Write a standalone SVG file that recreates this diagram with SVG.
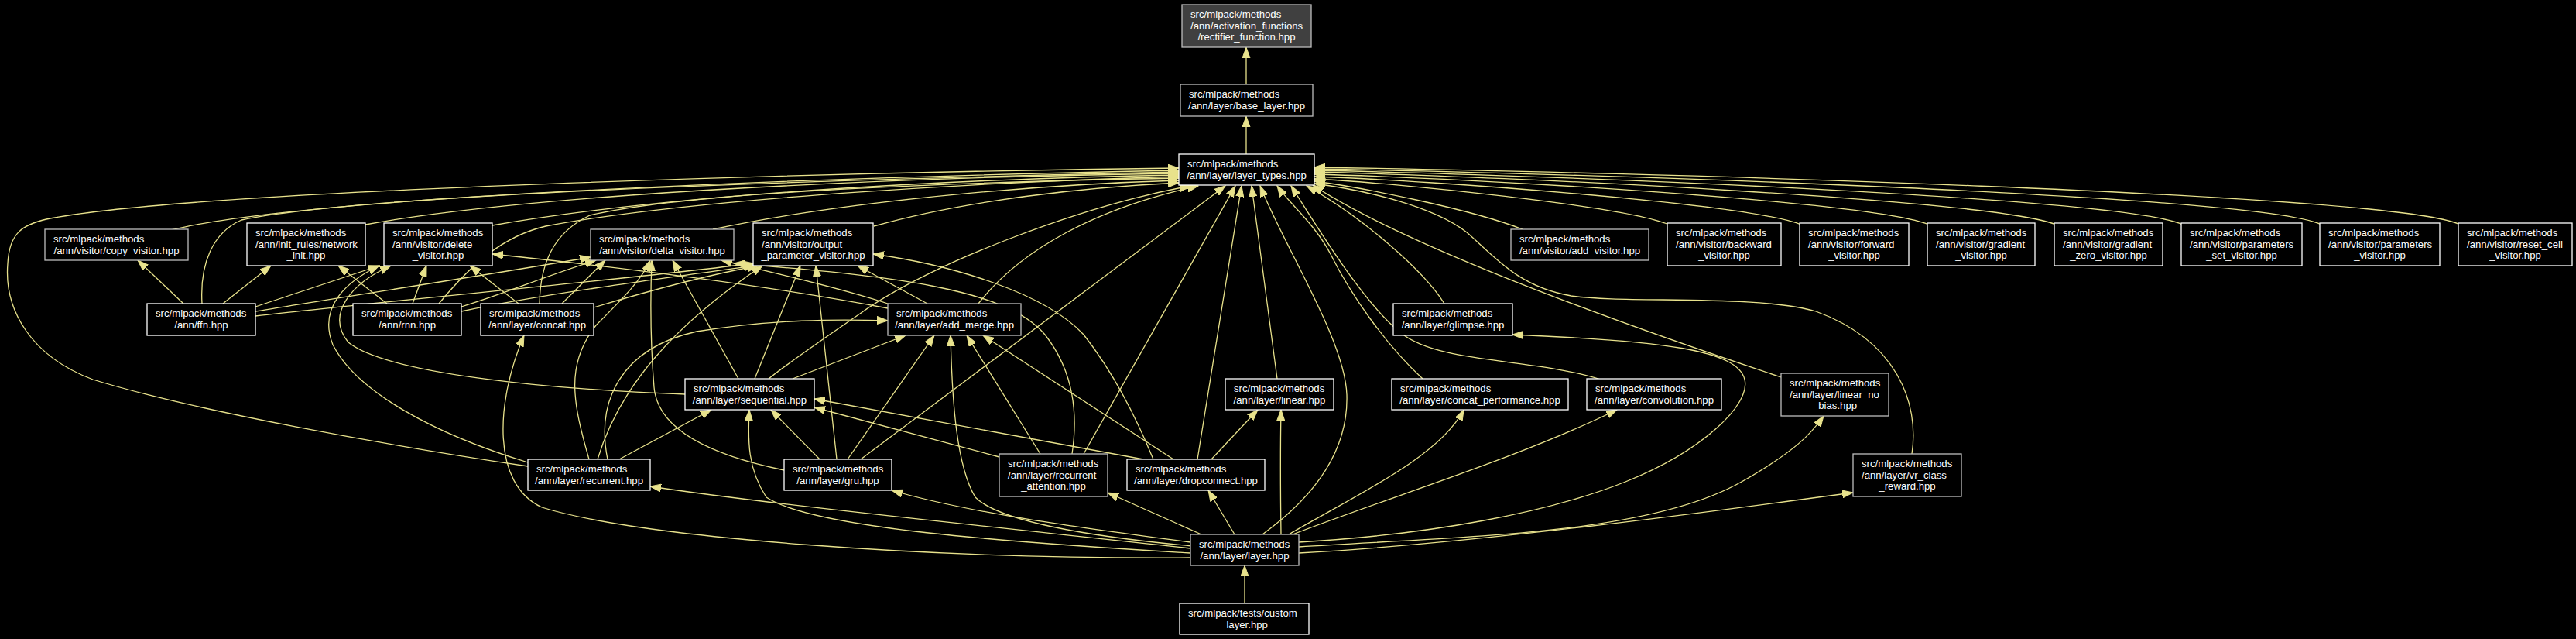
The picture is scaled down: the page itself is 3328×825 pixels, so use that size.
<svg xmlns="http://www.w3.org/2000/svg" width="3328" height="825" viewBox="0 0 3328 825">
<style>
.bg{fill:#000000}
.n rect{fill:#000000;stroke:#ffffff;stroke-width:1.3}
.n.g rect{stroke:#bdbdbd}
.n.d rect{fill:#404040;stroke:#bdbdbd}
.n text{font-family:"Liberation Sans",Arial,Helvetica,sans-serif;font-size:13.2px;fill:#ffffff}
.n text.c{text-anchor:middle}
#edges path{fill:none;stroke:#e8e28c;stroke-width:1.3;marker-end:url(#ah)}
</style>
<defs>
<marker id="ah" markerUnits="userSpaceOnUse" markerWidth="15" markerHeight="11" refX="14" refY="5.5" orient="auto">
<path d="M0,0.5 L14,5.5 L0,10.5 Z" fill="#e8e28c" stroke="#e8e28c" stroke-width="1"/>
</marker>
</defs>
<rect class="bg" x="0" y="0" width="3328" height="825"/>
<g id="edges">
<path d="M1610,109 L1610,61"/>
<path d="M1610,199 L1610,150"/>
<path d="M1608,779 L1608,730"/>
<path d="M3178,290 C3100,250 2100,222 1698,216"/>
<path d="M2999,290 C2920,252 2050,224 1698,218"/>
<path d="M2820,290 C2745,255 2000,226 1698,220"/>
<path d="M2656,290 C2580,258 1950,228 1698,222"/>
<path d="M2492,290 C2420,260 1900,230 1698,225"/>
<path d="M2327,290 C2260,263 1850,233 1698,228"/>
<path d="M2156,290 C2100,266 1800,236 1698,231"/>
<path d="M1967,296 C1900,270 1760,242 1698,234"/>
<path d="M1866,392 C1840,350 1760,280 1688,240"/>
<path d="M2301,487 C2100,420 1820,320 1696,239"/>
<path d="M2470,586 C2480,520 2450,440 2346,402 C2270,380 2100,392 2030,382 C1960,370 1930,330 1895,300 C1850,265 1760,245 1698,237"/>
<path d="M2068,490 C1980,462 1860,470 1810,430 C1760,390 1700,290 1668,240"/>
<path d="M1838,489 C1790,445 1745,380 1720,330 C1700,290 1665,262 1650,240"/>
<path d="M1631,690 C1700,640 1742,580 1740,510 C1738,440 1660,320 1628,240"/>
<path d="M1650,489 L1617,240"/>
<path d="M1547,593 L1604,240"/>
<path d="M1400,586 L1596,240"/>
<path d="M1112,593 L1583,240"/>
<path d="M1264,392 C1320,320 1420,268 1548,240"/>
<path d="M993,489 C1030,460 1075,430 1111,405 C1200,340 1400,265 1538,240"/>
<path d="M1129,292 C1250,258 1400,242 1523,236"/>
<path d="M921,296 C1100,258 1350,238 1523,233"/>
<path d="M697,392 C698,340 715,300 762,278 C900,245 1300,234 1523,230"/>
<path d="M567,392 C610,340 650,305 705,292 C900,255 1300,234 1523,228"/>
<path d="M636,291 C900,245 1300,230 1523,226"/>
<path d="M472,290 C700,248 1200,228 1523,224"/>
<path d="M261,392 C258,340 275,300 312,284 C500,245 1250,228 1523,222"/>
<path d="M221,297 C400,252 1100,228 1523,220"/>
<path d="M682,602 C500,575 250,530 120,490 C40,460 5,400 10,340 C12,300 30,290 60,283 C250,245 1100,222 1523,217"/>
<path d="M237,392 L178,336"/>
<path d="M288,392 L350,343"/>
<path d="M330,396 L490,343"/>
<path d="M330,402 C450,382 650,352 763,332"/>
<path d="M330,408 C500,388 800,362 973,340"/>
<path d="M500,392 L437,343"/>
<path d="M533,392 L551,343"/>
<path d="M596,396 C650,380 700,358 770,336"/>
<path d="M596,402 C700,380 850,360 975,343"/>
<path d="M670,392 L607,343"/>
<path d="M726,392 L782,336"/>
<path d="M767,397 C850,372 930,352 980,343"/>
<path d="M1147,398 C1000,370 800,345 636,328"/>
<path d="M1150,393 C1080,370 990,350 932,336"/>
<path d="M1198,392 L1108,343"/>
<path d="M885,509 C700,502 500,482 450,442 C420,405 455,365 505,343"/>
<path d="M954,489 L869,336"/>
<path d="M975,489 L1034,343"/>
<path d="M1024,489 L1170,433"/>
<path d="M682,597 C560,560 460,505 430,445 C410,395 450,362 490,343"/>
<path d="M761,593 C740,520 730,470 770,420 C805,385 830,360 840,336"/>
<path d="M772,593 C800,500 870,420 985,343"/>
<path d="M800,593 L919,529"/>
<path d="M785,593 C770,520 800,450 900,428 C1000,412 1080,412 1147,414"/>
<path d="M1059,593 L996,529"/>
<path d="M1095,593 L1207,433"/>
<path d="M1081,593 L1054,343"/>
<path d="M1013,607 C930,590 850,560 845,500 C840,440 840,390 842,336"/>
<path d="M1344,586 L1249,433"/>
<path d="M1291,590 L1052,526"/>
<path d="M1385,586 C1395,520 1380,470 1350,432 C1300,372 1150,356 948,340"/>
<path d="M1516,593 L1270,433"/>
<path d="M1477,593 L1052,515"/>
<path d="M1565,593 L1625,529"/>
<path d="M1490,593 C1460,520 1430,470 1400,432 C1350,378 1230,342 1128,328"/>
<path d="M1655,690 C1654,620 1654,580 1655,529"/>
<path d="M1595,690 L1561,633"/>
<path d="M1552,690 L1431,636"/>
<path d="M1538,700 C1400,682 1250,662 1152,633"/>
<path d="M1538,708 C1300,682 1000,652 840,628"/>
<path d="M1538,714 C1300,700 1050,682 990,642 C966,605 966,570 968,529"/>
<path d="M1538,720 C1200,722 830,695 700,655 C635,625 640,520 677,433"/>
<path d="M1540,705 C1400,692 1290,672 1260,642 C1236,602 1230,520 1228,433"/>
<path d="M1678,706 C1900,692 2130,690 2250,622 C2320,582 2340,560 2356,537"/>
<path d="M1678,714 C1900,702 2200,662 2394,636"/>
<path d="M1670,690 C1800,640 1960,592 2089,529"/>
<path d="M1665,690 C1750,640 1860,590 1891,529"/>
<path d="M1678,700 C1850,690 2000,662 2100,622 C2200,582 2262,522 2254,490 C2245,452 2150,440 1954,432"/>
</g>
<g id="n_rectifier" class="n d"><rect x="1527" y="6" width="167" height="55"/><text x="1538" y="23">src/mlpack/methods</text><text x="1538" y="37.5">/ann/activation_functions</text><text class="c" x="1610.5" y="52">/rectifier_function.hpp</text></g>
<g id="n_base_layer" class="n g"><rect x="1525" y="109" width="171" height="41"/><text x="1536" y="126">src/mlpack/methods</text><text class="c" x="1610.5" y="141">/ann/layer/base_layer.hpp</text></g>
<g id="n_layer_types" class="n"><rect x="1523" y="199" width="175" height="40"/><text x="1534" y="216">src/mlpack/methods</text><text class="c" x="1610.5" y="231">/ann/layer/layer_types.hpp</text></g>
<g id="n_copy_visitor" class="n g"><rect x="58" y="296" width="185" height="40"/><text x="69" y="313">src/mlpack/methods</text><text class="c" x="150.5" y="328">/ann/visitor/copy_visitor.hpp</text></g>
<g id="n_network_init" class="n"><rect x="319" y="288" width="153" height="55"/><text x="330" y="305">src/mlpack/methods</text><text x="330" y="319.5">/ann/init_rules/network</text><text class="c" x="395.5" y="334">_init.hpp</text></g>
<g id="n_delete_visitor" class="n"><rect x="496" y="288" width="140" height="55"/><text x="507" y="305">src/mlpack/methods</text><text x="507" y="319.5">/ann/visitor/delete</text><text class="c" x="566" y="334">_visitor.hpp</text></g>
<g id="n_delta_visitor" class="n g"><rect x="763" y="296" width="185" height="40"/><text x="774" y="313">src/mlpack/methods</text><text class="c" x="855.5" y="328">/ann/visitor/delta_visitor.hpp</text></g>
<g id="n_output_parameter_visitor" class="n"><rect x="973" y="288" width="155" height="55"/><text x="984" y="305">src/mlpack/methods</text><text x="984" y="319.5">/ann/visitor/output</text><text class="c" x="1050.5" y="334">_parameter_visitor.hpp</text></g>
<g id="n_add_visitor" class="n g"><rect x="1952" y="296" width="178" height="40"/><text x="1963" y="313">src/mlpack/methods</text><text class="c" x="2041" y="328">/ann/visitor/add_visitor.hpp</text></g>
<g id="n_backward_visitor" class="n"><rect x="2154" y="288" width="147" height="55"/><text x="2165" y="305">src/mlpack/methods</text><text x="2165" y="319.5">/ann/visitor/backward</text><text class="c" x="2227.5" y="334">_visitor.hpp</text></g>
<g id="n_forward_visitor" class="n"><rect x="2325" y="288" width="141" height="55"/><text x="2336" y="305">src/mlpack/methods</text><text x="2336" y="319.5">/ann/visitor/forward</text><text class="c" x="2395.5" y="334">_visitor.hpp</text></g>
<g id="n_gradient_visitor" class="n"><rect x="2490" y="288" width="139" height="55"/><text x="2501" y="305">src/mlpack/methods</text><text x="2501" y="319.5">/ann/visitor/gradient</text><text class="c" x="2559.5" y="334">_visitor.hpp</text></g>
<g id="n_gradient_zero_visitor" class="n"><rect x="2654" y="288" width="140" height="55"/><text x="2665" y="305">src/mlpack/methods</text><text x="2665" y="319.5">/ann/visitor/gradient</text><text class="c" x="2724" y="334">_zero_visitor.hpp</text></g>
<g id="n_parameters_set_visitor" class="n"><rect x="2818" y="288" width="156" height="55"/><text x="2829" y="305">src/mlpack/methods</text><text x="2829" y="319.5">/ann/visitor/parameters</text><text class="c" x="2896" y="334">_set_visitor.hpp</text></g>
<g id="n_parameters_visitor" class="n"><rect x="2997" y="288" width="155" height="55"/><text x="3008" y="305">src/mlpack/methods</text><text x="3008" y="319.5">/ann/visitor/parameters</text><text class="c" x="3074.5" y="334">_visitor.hpp</text></g>
<g id="n_reset_cell_visitor" class="n"><rect x="3176" y="288" width="147" height="55"/><text x="3187" y="305">src/mlpack/methods</text><text x="3187" y="319.5">/ann/visitor/reset_cell</text><text class="c" x="3249.5" y="334">_visitor.hpp</text></g>
<g id="n_ffn" class="n"><rect x="190" y="392" width="140" height="41"/><text x="201" y="409">src/mlpack/methods</text><text class="c" x="260" y="424">/ann/ffn.hpp</text></g>
<g id="n_rnn" class="n"><rect x="456" y="392" width="140" height="41"/><text x="467" y="409">src/mlpack/methods</text><text class="c" x="526" y="424">/ann/rnn.hpp</text></g>
<g id="n_concat" class="n"><rect x="621" y="392" width="146" height="41"/><text x="632" y="409">src/mlpack/methods</text><text class="c" x="694" y="424">/ann/layer/concat.hpp</text></g>
<g id="n_add_merge" class="n g"><rect x="1147" y="392" width="172" height="41"/><text x="1158" y="409">src/mlpack/methods</text><text class="c" x="1233" y="424">/ann/layer/add_merge.hpp</text></g>
<g id="n_glimpse" class="n"><rect x="1800" y="392" width="154" height="41"/><text x="1811" y="409">src/mlpack/methods</text><text class="c" x="1877" y="424">/ann/layer/glimpse.hpp</text></g>
<g id="n_sequential" class="n"><rect x="885" y="489" width="167" height="40"/><text x="896" y="506">src/mlpack/methods</text><text class="c" x="968.5" y="521">/ann/layer/sequential.hpp</text></g>
<g id="n_linear" class="n"><rect x="1583" y="489" width="140" height="40"/><text x="1594" y="506">src/mlpack/methods</text><text class="c" x="1653" y="521">/ann/layer/linear.hpp</text></g>
<g id="n_concat_performance" class="n"><rect x="1798" y="489" width="228" height="40"/><text x="1809" y="506">src/mlpack/methods</text><text class="c" x="1912" y="521">/ann/layer/concat_performance.hpp</text></g>
<g id="n_convolution" class="n"><rect x="2050" y="489" width="174" height="40"/><text x="2061" y="506">src/mlpack/methods</text><text class="c" x="2137" y="521">/ann/layer/convolution.hpp</text></g>
<g id="n_linear_no_bias" class="n g"><rect x="2301" y="482" width="139" height="55"/><text x="2312" y="499">src/mlpack/methods</text><text x="2312" y="513.5">/ann/layer/linear_no</text><text class="c" x="2370.5" y="528">_bias.hpp</text></g>
<g id="n_recurrent" class="n"><rect x="682" y="593" width="158" height="40"/><text x="693" y="610">src/mlpack/methods</text><text class="c" x="761" y="625">/ann/layer/recurrent.hpp</text></g>
<g id="n_gru" class="n"><rect x="1013" y="593" width="139" height="40"/><text x="1024" y="610">src/mlpack/methods</text><text class="c" x="1082.5" y="625">/ann/layer/gru.hpp</text></g>
<g id="n_recurrent_attention" class="n g"><rect x="1291" y="586" width="140" height="55"/><text x="1302" y="603">src/mlpack/methods</text><text x="1302" y="617.5">/ann/layer/recurrent</text><text class="c" x="1361" y="632">_attention.hpp</text></g>
<g id="n_dropconnect" class="n"><rect x="1456" y="593" width="178" height="40"/><text x="1467" y="610">src/mlpack/methods</text><text class="c" x="1545" y="625">/ann/layer/dropconnect.hpp</text></g>
<g id="n_vr_class_reward" class="n g"><rect x="2394" y="586" width="140" height="55"/><text x="2405" y="603">src/mlpack/methods</text><text x="2405" y="617.5">/ann/layer/vr_class</text><text class="c" x="2464" y="632">_reward.hpp</text></g>
<g id="n_layer" class="n g"><rect x="1538" y="690" width="140" height="40"/><text x="1549" y="707">src/mlpack/methods</text><text class="c" x="1608" y="722">/ann/layer/layer.hpp</text></g>
<g id="n_custom_layer" class="n"><rect x="1524" y="779" width="167" height="40"/><text x="1535" y="796">src/mlpack/tests/custom</text><text class="c" x="1607.5" y="811">_layer.hpp</text></g>
</svg>
